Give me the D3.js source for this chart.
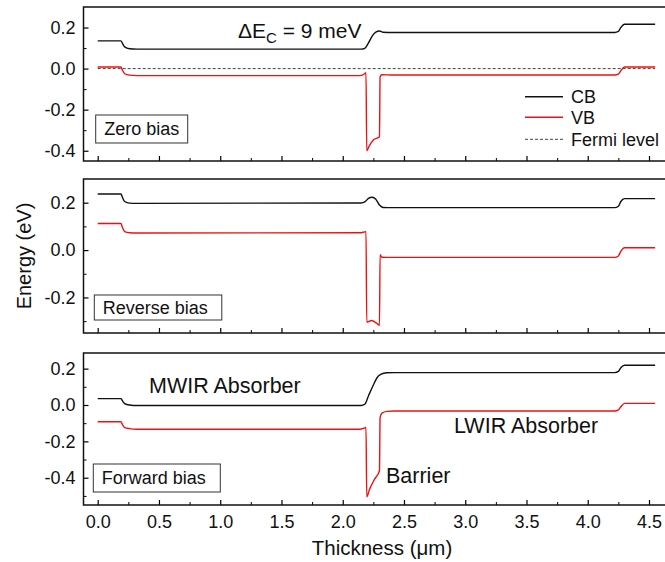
<!DOCTYPE html>
<html>
<head>
<meta charset="utf-8">
<script src="https://cdn.jsdelivr.net/npm/d3@7"></script>
<style>
  body { margin: 0; background: #fff; }
  text { font-family: "Liberation Sans", Arial, sans-serif; fill: #111; }
</style>
</head>
<body>
<svg id="chart"></svg>
<script>
var w = 665; // Width of the SVG element
var h = 562; // Height of the SVG element

// Band edges, [thickness (um), energy (eV)]
var zeroCB = [[0, 0.135], [0.19, 0.135], [0.20, 0.125], [0.22, 0.106], [0.26, 0.097], [0.32, 0.095],
  [2.15, 0.095], [2.18, 0.099], [2.21, 0.125], [2.24, 0.158], [2.27, 0.178], [2.30, 0.183], [2.33, 0.177],
  [2.40, 0.176], [4.22, 0.176], [4.25, 0.181], [4.27, 0.200], [4.30, 0.216], [4.55, 0.216]];
var zeroVB = [[0, 0.008], [0.19, 0.008], [0.20, -0.005], [0.22, -0.025], [0.26, -0.032], [0.32, -0.034],
  [2.14, -0.034], [2.18, -0.025], [2.19, -0.020], [2.196, -0.400], [2.217, -0.376], [2.25, -0.348],
  [2.30, -0.332], [2.305, -0.040], [2.32, -0.030], [2.40, -0.031], [4.22, -0.031], [4.25, -0.027],
  [4.27, -0.010], [4.30, 0.008], [4.55, 0.008]];
var fermi = [[0, 0], [4.55, 0]];

var reverseCB = [[0, 0.237], [0.19, 0.237], [0.20, 0.225], [0.22, 0.205], [0.26, 0.198], [0.32, 0.197],
  [2.15, 0.199], [2.18, 0.203], [2.21, 0.218], [2.24, 0.223], [2.27, 0.215], [2.30, 0.190], [2.33, 0.180],
  [2.40, 0.179], [4.22, 0.179], [4.25, 0.185], [4.27, 0.205], [4.30, 0.217], [4.55, 0.217]];
var reverseVB = [[0, 0.112], [0.19, 0.112], [0.20, 0.098], [0.22, 0.078], [0.26, 0.073], [0.32, 0.072],
  [2.14, 0.073], [2.18, 0.077], [2.19, 0.078], [2.196, -0.304], [2.235, -0.297], [2.275, -0.308],
  [2.30, -0.318], [2.305, -0.020], [2.32, -0.030], [2.40, -0.031], [4.22, -0.031], [4.25, -0.025],
  [4.27, -0.005], [4.30, 0.010], [4.55, 0.010]];

var forwardCB = [[0, 0.035], [0.19, 0.035], [0.20, 0.025], [0.22, 0.008], [0.26, 0.000], [0.32, -0.003],
  [2.15, -0.003], [2.18, 0.004], [2.21, 0.050], [2.25, 0.110], [2.28, 0.150], [2.31, 0.168], [2.36, 0.177],
  [2.42, 0.178], [4.22, 0.178], [4.25, 0.185], [4.27, 0.205], [4.30, 0.219], [4.55, 0.219]];
var forwardVB = [[0, -0.092], [0.19, -0.092], [0.20, -0.105], [0.22, -0.124], [0.26, -0.130], [0.32, -0.133],
  [2.14, -0.133], [2.18, -0.126], [2.19, -0.124], [2.196, -0.505], [2.22, -0.462], [2.26, -0.408],
  [2.30, -0.362], [2.305, -0.070], [2.32, -0.045], [2.36, -0.035], [2.42, -0.033], [4.22, -0.033],
  [4.25, -0.027], [4.27, -0.010], [4.30, 0.009], [4.55, 0.009]];

// Tick values
var xTicks = [0, 0.5, 1.0, 1.5, 2.0, 2.5, 3.0, 3.5, 4.0, 4.5];
var xMinor = [0.25, 0.75, 1.25, 1.75, 2.25, 2.75, 3.25, 3.75, 4.25];
var zeroTicks = [-0.4, -0.2, 0, 0.2];
var zeroMinor = [-0.3, -0.1, 0.1];
var reverseTicks = [-0.2, 0, 0.2];
var reverseMinor = [-0.3, -0.1, 0.1];
var forwardTicks = [-0.4, -0.2, 0, 0.2];
var forwardMinor = [-0.5, -0.3, -0.1, 0.1];

var left = 83.5, right = 667; // frame edges (right edge runs off the picture)

var svg = d3.select("#chart").attr("width", w).attr("height", h);

var x = d3.scaleLinear().domain([0, 4.5]).range([97.7, 649]);

var panels = [
  { top: 7, bottom: 161, domain: [-0.45, 0.3], ticks: zeroTicks, minor: zeroMinor,
    cb: zeroCB, vb: zeroVB, label: "Zero bias", box: [95.7, 115, 92, 28] },
  { top: 179, bottom: 333, domain: [-0.35, 0.3], ticks: reverseTicks, minor: reverseMinor,
    cb: reverseCB, vb: reverseVB, label: "Reverse bias", box: [94.3, 295, 127.5, 25] },
  { top: 353, bottom: 505, domain: [-0.55, 0.286], ticks: forwardTicks, minor: forwardMinor,
    cb: forwardCB, vb: forwardVB, label: "Forward bias", box: [93.3, 464, 127, 28] }
];

panels.forEach(function(p, i) {
  var y = d3.scaleLinear().domain(p.domain).range([p.bottom, p.top]);
  p.y = y;
  var g = svg.append("g");

  var line = d3.line()
    .x(function(d) { return x(d[0]); })
    .y(function(d) { return y(d[1]); })
    .curve(d3.curveMonotoneX);

  if (i === 0) {
    g.append("path")
      .attr("d", line(fermi))
      .attr("fill", "none")
      .attr("stroke", "#444")
      .attr("stroke-width", 1)
      .attr("stroke-dasharray", "3,2");
  }

  g.append("path")
    .attr("d", line(p.cb))
    .attr("fill", "none")
    .attr("stroke", "#111")
    .attr("stroke-width", 1.4);

  g.append("path")
    .attr("d", line(p.vb))
    .attr("fill", "none")
    .attr("stroke", "#ee1111")
    .attr("stroke-width", 1.4);

  // y axis, inward ticks
  var ya = g.append("g")
    .attr("transform", "translate(" + left + ",0)")
    .call(d3.axisLeft(y).tickValues(p.ticks).tickSize(-5).tickPadding(8)
      .tickFormat(function(d) { return d.toFixed(1); }));
  ya.select(".domain").remove();
  ya.selectAll("text").style("font-size", "18px");
  ya.selectAll("line").attr("stroke-width", 1.2);

  var ym = g.append("g")
    .attr("transform", "translate(" + left + ",0)")
    .call(d3.axisLeft(y).tickValues(p.minor).tickSize(-3).tickFormat(""));
  ym.select(".domain").remove();

  // x axis
  var xa = g.append("g")
    .attr("transform", "translate(0," + p.bottom + ")")
    .call(d3.axisBottom(x).tickValues(xTicks).tickSize(-5).tickPadding(10)
      .tickFormat(i === 2 ? function(d) { return d.toFixed(1); } : ""));
  xa.select(".domain").remove();
  xa.selectAll("text").style("font-size", "18px");
  xa.selectAll("line").attr("stroke-width", 1.2);

  var xm = g.append("g")
    .attr("transform", "translate(0," + p.bottom + ")")
    .call(d3.axisBottom(x).tickValues(xMinor).tickSize(-3).tickFormat(""));
  xm.select(".domain").remove();

  // frame
  g.append("rect")
    .attr("x", left).attr("y", p.top)
    .attr("width", right - left).attr("height", p.bottom - p.top)
    .attr("fill", "none").attr("stroke", "#111").attr("stroke-width", 1.5);

  // bias label box
  g.append("rect")
    .attr("x", p.box[0]).attr("y", p.box[1])
    .attr("width", p.box[2]).attr("height", p.box[3])
    .attr("fill", "#fff").attr("stroke", "#333").attr("stroke-width", 1);
  g.append("text")
    .attr("x", p.box[0] + 8.5)
    .attr("y", p.box[1] + p.box[3] / 2)
    .attr("dy", "0.36em")
    .style("font-size", "18px")
    .text(p.label);
});

// Zero bias annotations
var dE = svg.append("text")
  .attr("x", 238).attr("y", 38)
  .style("font-size", "21px");
dE.append("tspan").text("\u0394E");
dE.append("tspan").attr("dy", 5).style("font-size", "15px").text("C");
dE.append("tspan").attr("dy", -5).text(" = 9 meV");

var legend = [["CB", "#111", null], ["VB", "#ee1111", null], ["Fermi level", "#444", "3,2"]];
var legendY = [96.7, 117.3, 139.3];
legend.forEach(function(d, i) {
  svg.append("line")
    .attr("x1", 525).attr("x2", 563)
    .attr("y1", legendY[i]).attr("y2", legendY[i])
    .attr("stroke", d[1])
    .attr("stroke-width", d[2] ? 1 : 1.4)
    .attr("stroke-dasharray", d[2]);
  svg.append("text")
    .attr("x", 571).attr("y", legendY[i])
    .attr("dy", "0.36em")
    .style("font-size", "18px")
    .text(d[0]);
});

// Forward bias annotations
svg.append("text").attr("x", 149).attr("y", 393).style("font-size", "21.5px").text("MWIR Absorber");
svg.append("text").attr("x", 454).attr("y", 433).style("font-size", "21.5px").text("LWIR Absorber");
svg.append("text").attr("x", 386).attr("y", 483).style("font-size", "21.5px").text("Barrier");

// axis titles
svg.append("text")
  .attr("transform", "translate(31,256) rotate(-90)")
  .attr("text-anchor", "middle")
  .style("font-size", "20px")
  .text("Energy (eV)");

svg.append("text")
  .attr("x", 382).attr("y", 555)
  .attr("text-anchor", "middle")
  .style("font-size", "20.5px")
  .text("Thickness (\u03bcm)");
</script>
</body>
</html>
